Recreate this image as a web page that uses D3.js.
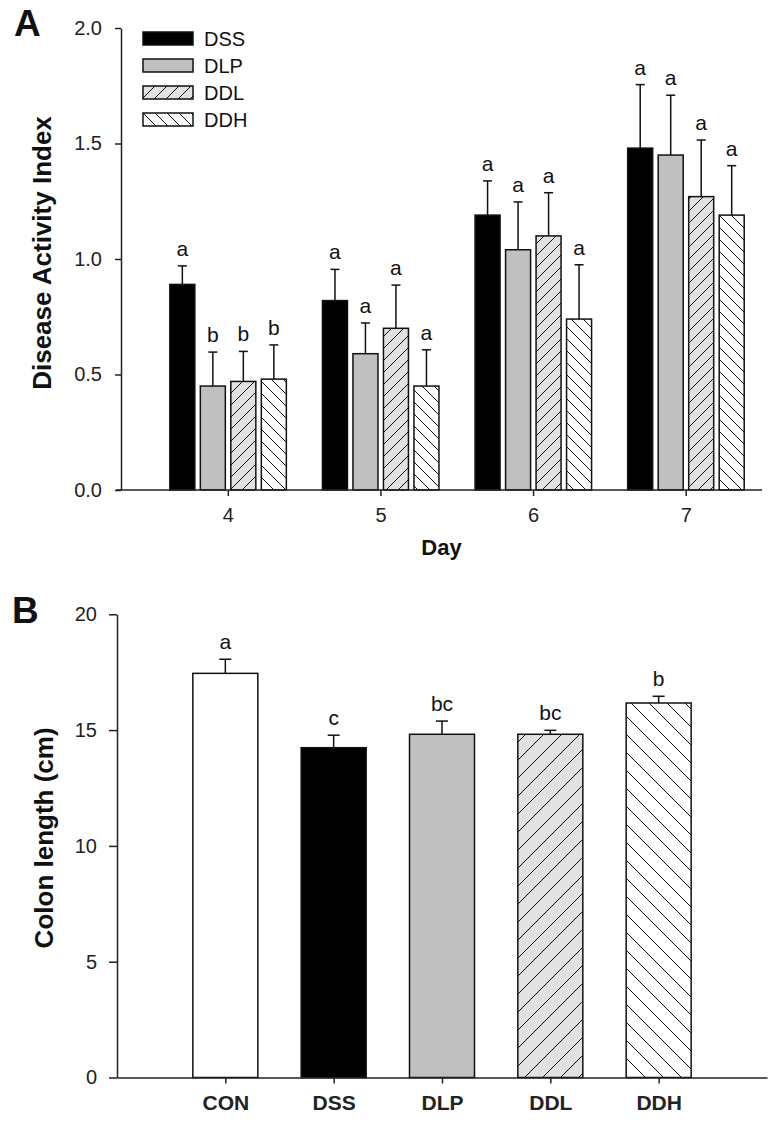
<!DOCTYPE html>
<html>
<head>
<meta charset="utf-8">
<script src="https://cdn.jsdelivr.net/npm/d3@7"></script>
<style>
    body { margin: 0; background: #fff; }
    svg { display: block; font-family: Arial, 'Liberation Sans', sans-serif; }
    .axis path, .axis line { stroke: #222; stroke-width: 1.5; }
    .axis text { fill: #222; }
</style>
</head>
<body>
<div id="chart"></div>
<script>
// Panel A: disease activity index by day
const days = [4, 5, 6, 7];
const groups = ['DSS', 'DLP', 'DDL', 'DDH'];
const daiMean = {
    DSS: [0.89, 0.82, 1.19, 1.48],
    DLP: [0.45, 0.59, 1.04, 1.45],
    DDL: [0.47, 0.70, 1.10, 1.27],
    DDH: [0.48, 0.45, 0.74, 1.19]
};
const daiSd = {
    DSS: [0.08, 0.135, 0.148, 0.275],
    DLP: [0.147, 0.133, 0.207, 0.259],
    DDL: [0.13, 0.187, 0.187, 0.245],
    DDH: [0.148, 0.157, 0.235, 0.214]
};
const daiLetters = {
    DSS: ['a', 'a', 'a', 'a'],
    DLP: ['b', 'a', 'a', 'a'],
    DDL: ['b', 'a', 'a', 'a'],
    DDH: ['b', 'a', 'a', 'a']
};
const daiTicks = [0, 0.5, 1.0, 1.5, 2.0];

// Panel B: colon length
const colonGroups = ['CON', 'DSS', 'DLP', 'DDL', 'DDH'];
const colonMean = [17.45, 14.24, 14.82, 14.82, 16.17];
const colonSd = [0.61, 0.54, 0.57, 0.17, 0.29];
const colonLetters = ['a', 'c', 'bc', 'bc', 'b'];
const colonTicks = [0, 5, 10, 15, 20];

const width = 771;
const height = 1127;

const svg = d3.select('#chart').append('svg')
    .attr('width', width)
    .attr('height', height);

const defs = svg.append('defs');

// Hatch pattern: dir 1 = "/", dir -1 = "\"
function addHatch(id, size, bg, dir) {
    const p = defs.append('pattern')
        .attr('id', id)
        .attr('patternUnits', 'userSpaceOnUse')
        .attr('width', size)
        .attr('height', size);
    p.append('rect').attr('width', size).attr('height', size).attr('fill', bg);
    const s = size;
    const d = dir > 0
        ? `M0,${s} L${s},0 M-2,2 L2,-2 M${s - 2},${s + 2} L${s + 2},${s - 2}`
        : `M0,0 L${s},${s} M-2,${s - 2} L2,${s + 2} M${s - 2},-2 L${s + 2},2`;
    p.append('path').attr('d', d).attr('stroke', '#111').attr('stroke-width', 1);
}
addHatch('ddlA', 12, '#e1e1e1', 1);
addHatch('ddhA', 12, '#ffffff', -1);
addHatch('ddlB', 18, '#e1e1e1', 1);
addHatch('ddhB', 18, '#ffffff', -1);

function fillFor(name, panel) {
    if (name === 'DSS') return '#000';
    if (name === 'DLP') return '#c0c0c0';
    if (name === 'DDL') return `url(#ddl${panel})`;
    if (name === 'DDH') return `url(#ddh${panel})`;
    return '#fff';
}

// ---------- Panel A ----------
const xA = d3.scaleLinear().domain([3.3, 7.5]).range([121, 762]);
const yA = d3.scaleLinear().domain([0, 2]).range([490, 28]);
const inner = d3.scaleBand().domain(groups).range([-58, 58.5]).paddingInner(0.18);

const gA = svg.append('g');

const barsA = [];
groups.forEach(name => {
    days.forEach((day, i) => {
        barsA.push({ name, day, mean: daiMean[name][i], sd: daiSd[name][i], letter: daiLetters[name][i] });
    });
});

gA.selectAll('rect.bar')
    .data(barsA)
    .enter()
    .append('rect')
    .attr('class', 'bar')
    .attr('x', d => xA(d.day) + inner(d.name))
    .attr('y', d => yA(d.mean))
    .attr('width', inner.bandwidth())
    .attr('height', d => yA(0) - yA(d.mean))
    .attr('fill', d => fillFor(d.name, 'A'))
    .attr('stroke', '#111')
    .attr('stroke-width', 1.5);

// Error bars (upper only)
const errA = gA.selectAll('g.err')
    .data(barsA)
    .enter()
    .append('g')
    .attr('class', 'err')
    .attr('stroke', '#111')
    .attr('stroke-width', 1.5);
errA.append('line')
    .attr('x1', d => xA(d.day) + inner(d.name) + inner.bandwidth() / 2)
    .attr('x2', d => xA(d.day) + inner(d.name) + inner.bandwidth() / 2)
    .attr('y1', d => yA(d.mean))
    .attr('y2', d => yA(d.mean + d.sd));
errA.append('line')
    .attr('x1', d => xA(d.day) + inner(d.name) + inner.bandwidth() / 2 - 4.5)
    .attr('x2', d => xA(d.day) + inner(d.name) + inner.bandwidth() / 2 + 4.5)
    .attr('y1', d => yA(d.mean + d.sd))
    .attr('y2', d => yA(d.mean + d.sd));

gA.selectAll('text.letter')
    .data(barsA)
    .enter()
    .append('text')
    .attr('class', 'letter')
    .attr('x', d => xA(d.day) + inner(d.name) + inner.bandwidth() / 2)
    .attr('y', d => yA(d.mean + d.sd) - 10)
    .attr('text-anchor', 'middle')
    .attr('font-size', 21)
    .attr('fill', '#111')
    .text(d => d.letter);

// Axes
gA.append('g')
    .attr('class', 'axis')
    .attr('transform', 'translate(0,490)')
    .call(d3.axisBottom(xA).tickValues(days).tickFormat(d3.format('d')).tickSize(6).tickSizeOuter(0).tickPadding(12))
    .call(g => g.select('.domain').attr('d', 'M116,0H762'))
    .selectAll('text').attr('font-size', 20);

gA.append('g')
    .attr('class', 'axis')
    .attr('transform', 'translate(121,0)')
    .call(d3.axisLeft(yA).tickValues(daiTicks).tickFormat(d3.format('.1f')).tickSize(6).tickSizeOuter(0).tickPadding(13))
    .selectAll('text').attr('font-size', 20);

gA.append('text')
    .attr('x', xA.range()[0] / 2 + xA.range()[1] / 2)
    .attr('y', 555)
    .attr('text-anchor', 'middle')
    .attr('font-size', 22)
    .attr('font-weight', 'bold')
    .attr('fill', '#111')
    .text('Day');

gA.append('text')
    .attr('transform', `translate(51,${(yA(0) + yA(2)) / 2 - 6}) rotate(-90)`)
    .attr('text-anchor', 'middle')
    .attr('font-size', 26)
    .attr('font-weight', 'bold')
    .attr('fill', '#111')
    .text('Disease Activity Index');

gA.append('text')
    .attr('x', 14)
    .attr('y', 36)
    .attr('font-size', 37)
    .attr('font-weight', 'bold')
    .attr('fill', '#111')
    .text('A');

// Legend
const legend = gA.append('g').attr('transform', 'translate(143,32)');
const legItem = legend.selectAll('g')
    .data(groups)
    .enter()
    .append('g')
    .attr('transform', (d, i) => `translate(0,${i * 27})`);
legItem.append('rect')
    .attr('width', 50)
    .attr('height', 13)
    .attr('fill', d => fillFor(d, 'A'))
    .attr('stroke', '#111')
    .attr('stroke-width', 1.5);
legItem.append('text')
    .attr('x', 61)
    .attr('y', 14)
    .attr('font-size', 20)
    .attr('fill', '#111')
    .text(d => d);

// ---------- Panel B ----------
const xB = d3.scalePoint().domain(colonGroups).range([117, 767]).padding(1);
const yB = d3.scaleLinear().domain([0, 20]).range([1077.5, 614.3]);
const barW = xB.step() * 0.6;

const gB = svg.append('g');

const barsB = colonGroups.map((name, i) => ({
    name, mean: colonMean[i], sd: colonSd[i], letter: colonLetters[i]
}));

gB.selectAll('rect.bar')
    .data(barsB)
    .enter()
    .append('rect')
    .attr('class', 'bar')
    .attr('x', d => xB(d.name) - barW / 2)
    .attr('y', d => yB(d.mean))
    .attr('width', barW)
    .attr('height', d => yB(0) - yB(d.mean))
    .attr('fill', d => fillFor(d.name, 'B'))
    .attr('stroke', '#111')
    .attr('stroke-width', 1.5);

const errB = gB.selectAll('g.err')
    .data(barsB)
    .enter()
    .append('g')
    .attr('class', 'err')
    .attr('stroke', '#111')
    .attr('stroke-width', 1.5);
errB.append('line')
    .attr('x1', d => xB(d.name))
    .attr('x2', d => xB(d.name))
    .attr('y1', d => yB(d.mean))
    .attr('y2', d => yB(d.mean + d.sd));
errB.append('line')
    .attr('x1', d => xB(d.name) - 6)
    .attr('x2', d => xB(d.name) + 6)
    .attr('y1', d => yB(d.mean + d.sd))
    .attr('y2', d => yB(d.mean + d.sd));

gB.selectAll('text.letter')
    .data(barsB)
    .enter()
    .append('text')
    .attr('class', 'letter')
    .attr('x', d => xB(d.name))
    .attr('y', d => yB(d.mean + d.sd) - 10)
    .attr('text-anchor', 'middle')
    .attr('font-size', 21)
    .attr('fill', '#111')
    .text(d => d.letter);

gB.append('g')
    .attr('class', 'axis')
    .attr('transform', `translate(0,${yB(0)})`)
    .call(d3.axisBottom(xB).tickSize(6).tickSizeOuter(0).tickPadding(12))
    .selectAll('text')
    .attr('font-size', 21)
    .attr('font-weight', 'bold')
    .attr('fill', '#111');

gB.append('g')
    .attr('class', 'axis')
    .attr('transform', 'translate(117,0)')
    .call(d3.axisLeft(yB).tickValues(colonTicks).tickSize(8).tickSizeOuter(0).tickPadding(12))
    .selectAll('text').attr('font-size', 20);

gB.append('text')
    .attr('transform', `translate(53,${(yB(0) + yB(20)) / 2 - 8}) rotate(-90)`)
    .attr('text-anchor', 'middle')
    .attr('font-size', 26)
    .attr('font-weight', 'bold')
    .attr('fill', '#111')
    .text('Colon length (cm)');

gB.append('text')
    .attr('x', 12)
    .attr('y', 623)
    .attr('font-size', 37)
    .attr('font-weight', 'bold')
    .attr('fill', '#111')
    .text('B');
</script>
</body>
</html>
